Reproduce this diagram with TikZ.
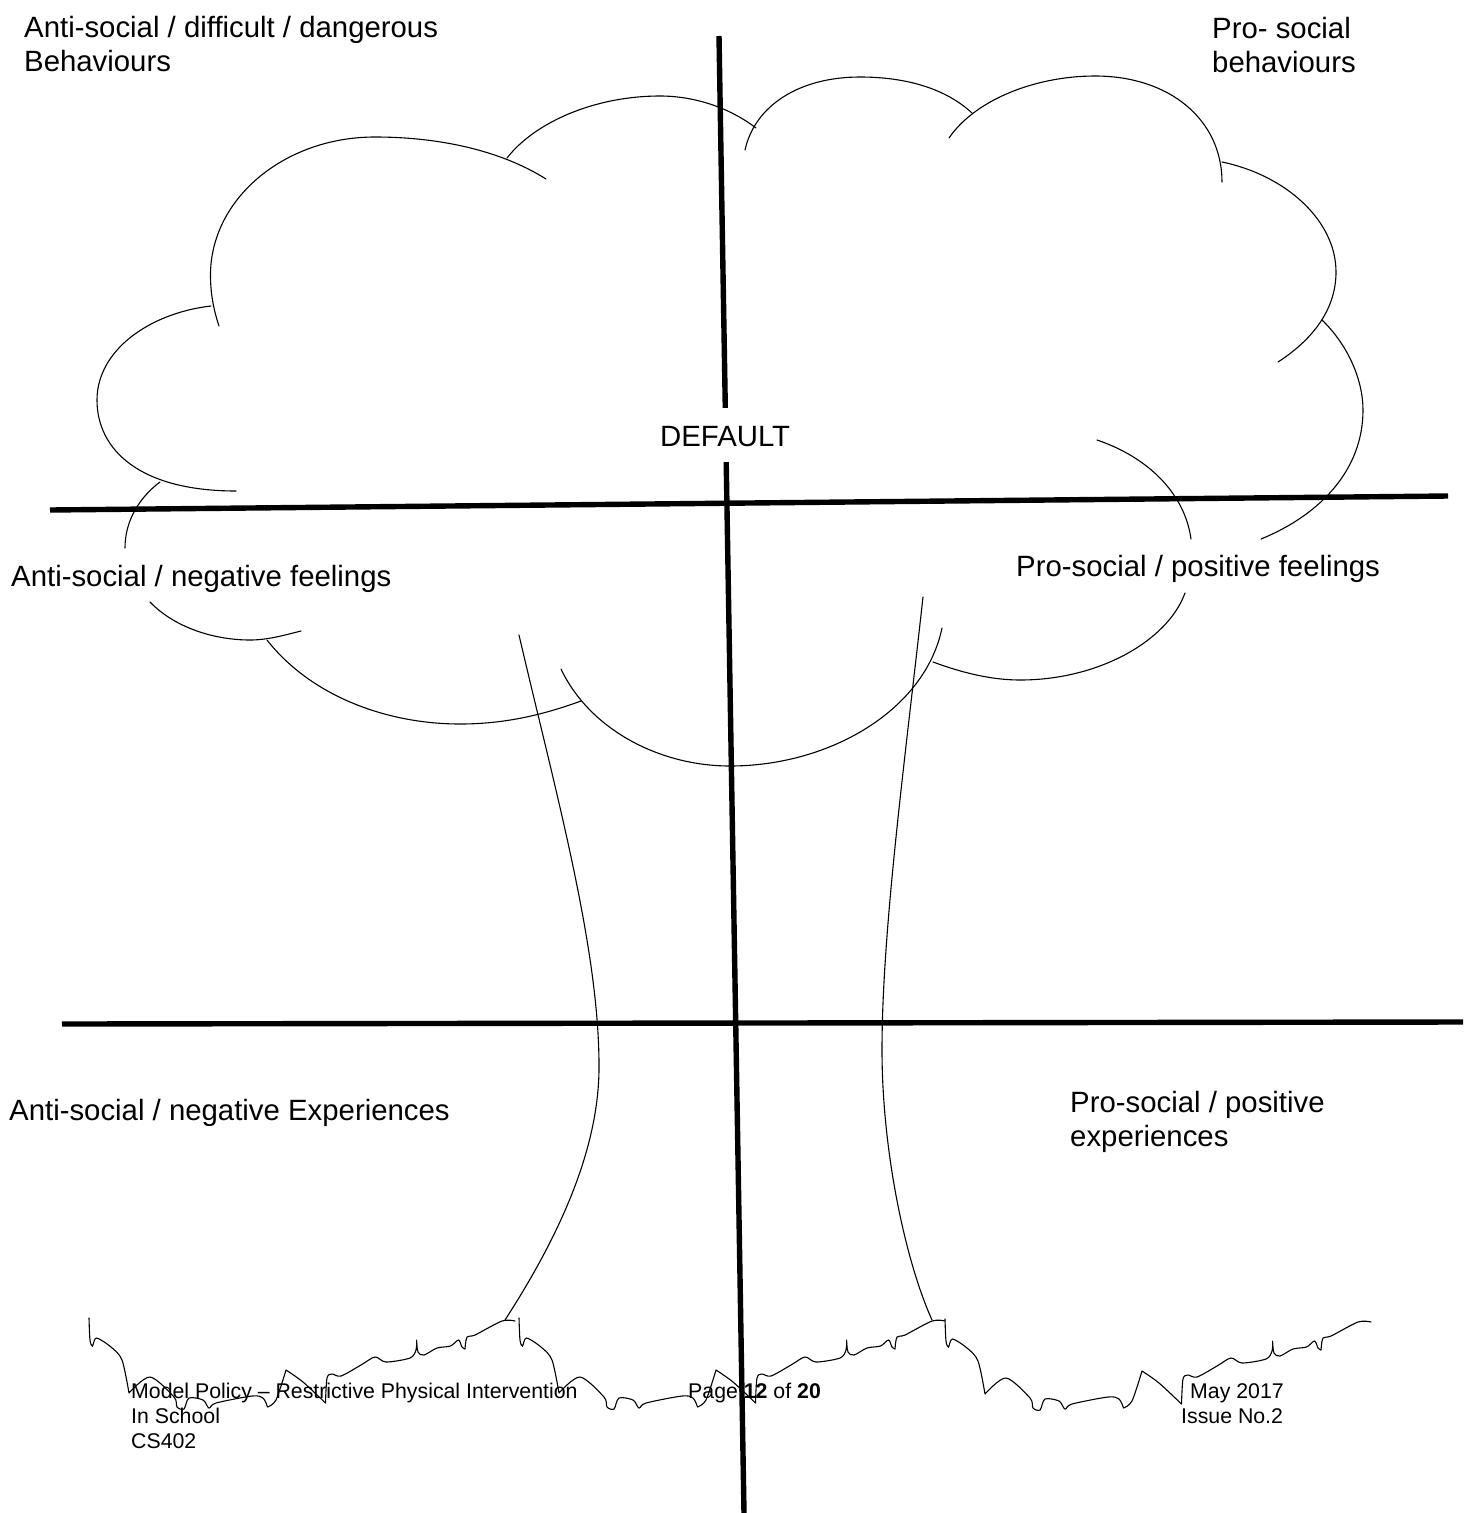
\documentclass[tikz,border=0pt]{standalone}
\usepackage{fontspec}
\setmainfont{Liberation Sans}
\tikzset{
  heavy/.style={line width=5.4pt,black},
  thin line/.style={line width=1.1pt,black},
  arcline/.style={thin line,line cap=round},
  big/.style={inner sep=0pt,anchor=base west,font=\fontsize{29.35}{34}\selectfont},
  small/.style={inner sep=0pt,anchor=base west,font=\fontsize{21.3}{25}\selectfont},
}
\newcommand{\groundpiece}{%
 plot[smooth,tension=0.5] coordinates {(89,1318)(90,1340)(92.5,1346)(96.5,1338)(111,1347)(122,1360)(129,1393)}
 plot[smooth,tension=0.5] coordinates {(129,1393)(150,1377)(174,1397)(177,1407)(184,1409)(189,1398)(203,1400)(209,1408)(216,1403)(252,1396)(263,1398)(267.5,1407)}
 plot[smooth,tension=0.5] coordinates {(267.5,1407)(276,1400)(286,1370)}
 plot[smooth,tension=0.5] coordinates {(286,1370)(303,1382)(325.5,1403)}
 plot[smooth,tension=0.5] coordinates {(325.5,1403)(327,1378)(332,1374)(341,1376)(361,1365)(375,1357)(386,1362)(410,1358)(416,1350)(416.6,1340)}
 plot[smooth,tension=0.5] coordinates {(416.6,1340)(418,1352)(424,1355)(437,1348)(450.5,1346)(458.5,1340)(462,1347)(465,1349)}
 plot[smooth,tension=0.5] coordinates {(465,1349)(467,1337)(475,1335)(502,1321)(515,1321)}
}
\begin{document}
\begin{tikzpicture}[x=1pt,y=-1pt]
\useasboundingbox (0,0) rectangle (1471,1513);
% cloud
\draw[arcline] (219,326) .. controls (213,308) and (210.5,292) .. (210.5,275) .. controls (210.5,199) and (284,137) .. (375,137) .. controls (438,137) and (500,150) .. (546,179);
\draw[arcline] (211,306) .. controls (150,313) and (97,350) .. (97,400) .. controls (97,450) and (140,491) .. (236,491);
\draw[arcline] (160,482) .. controls (140,497) and (125,520) .. (125,548);
\draw[arcline] (150,602) .. controls (175,628) and (215,640) .. (250,640) .. controls (268,640) and (285,635) .. (301,631);
\draw[arcline] (267,640) .. controls (310,695) and (385,724) .. (460,724) .. controls (502,724) and (540,716) .. (581,701);
\draw[arcline] (561,669) .. controls (590,730) and (660,766) .. (730,766) .. controls (830,766) and (925,710) .. (942,628);
\draw[arcline] (933,662) .. controls (960,672) and (990,680) .. (1020,680) .. controls (1100,680) and (1168,640) .. (1185,593);
\draw[arcline] (1097,440) .. controls (1150,458) and (1185,495) .. (1191,539);
\draw[arcline] (1322,320) .. controls (1348,345) and (1363,380) .. (1363,410) .. controls (1363,470) and (1320,515) .. (1261,539);
\draw[arcline] (1278,362) .. controls (1312,340) and (1336,310) .. (1336,272) .. controls (1336,220) and (1285,175) .. (1222,162);
\draw[arcline] (1222,182) .. controls (1222,120) and (1170,76) .. (1095,76) .. controls (1035,76) and (975,100) .. (949,138);
\draw[arcline] (745,150) .. controls (755,105) and (800,77) .. (860,77) .. controls (905,77) and (945,88) .. (972,113);
\draw[arcline] (756,128) .. controls (730,108) and (695,96) .. (660,96) .. controls (595,96) and (535,122) .. (507,158);
% trunk
\draw[arcline] (519,635) .. controls (555,790) and (600,950) .. (599,1070) .. controls (598,1150) and (560,1235) .. (505,1320);
\draw[arcline] (923,597) .. controls (905,760) and (882,930) .. (882,1050) .. controls (882,1150) and (905,1260) .. (932,1320);
% ground
\foreach \dx/\dy in {0/0,430/0,856/1}{
  \begin{scope}[shift={(\dx,\dy)}]
    \draw[arcline] \groundpiece;
  \end{scope}
}
% axes
\coordinate (vtop) at (719,36);
\coordinate (vbot) at (744,1513);
\coordinate (h1l) at (50,510);
\coordinate (h1r) at (1448,496);
\coordinate (h2l) at (62,1024);
\coordinate (h2r) at (1463,1022);
\draw[heavy] (vtop) -- (vbot);
\draw[heavy] (h1l) -- (h1r);
\draw[heavy] (h2l) -- (h2r);
% labels
\node[big] (t1) at (24,37) {Anti-social / difficult / dangerous};
\node[big] (t2) at (24,71) {Behaviours};
\node[big] (t3) at (1212,38) {Pro- social};
\node[big] (t4) at (1212,72) {behaviours};
\node[big,fill=white,text height=38pt,text depth=16pt] (t5) at (660,446) {DEFAULT};
\node[big] (t6) at (11,586) {Anti-social / negative feelings};
\node[big] (t7) at (1016,576) {Pro-social / positive feelings};
\node[big] (t8) at (9,1120) {Anti-social / negative Experiences};
\node[big] (t9) at (1070,1112) {Pro-social / positive};
\node[big] (t10) at (1070,1146) {experiences};
% footer
\node[small] (f1) at (131,1398) {Model Policy – Restrictive Physical Intervention};
\node[small] (f2) at (131,1423) {In School};
\node[small] (f3) at (131,1448) {CS402};
\node[small] (f4) at (688,1398) {Page \textbf{12} of \textbf{20}};
\node[small] (f5) at (1190,1398) {May 2017};
\node[small] (f6) at (1181,1423) {Issue No.2};
\end{tikzpicture}
\end{document}
